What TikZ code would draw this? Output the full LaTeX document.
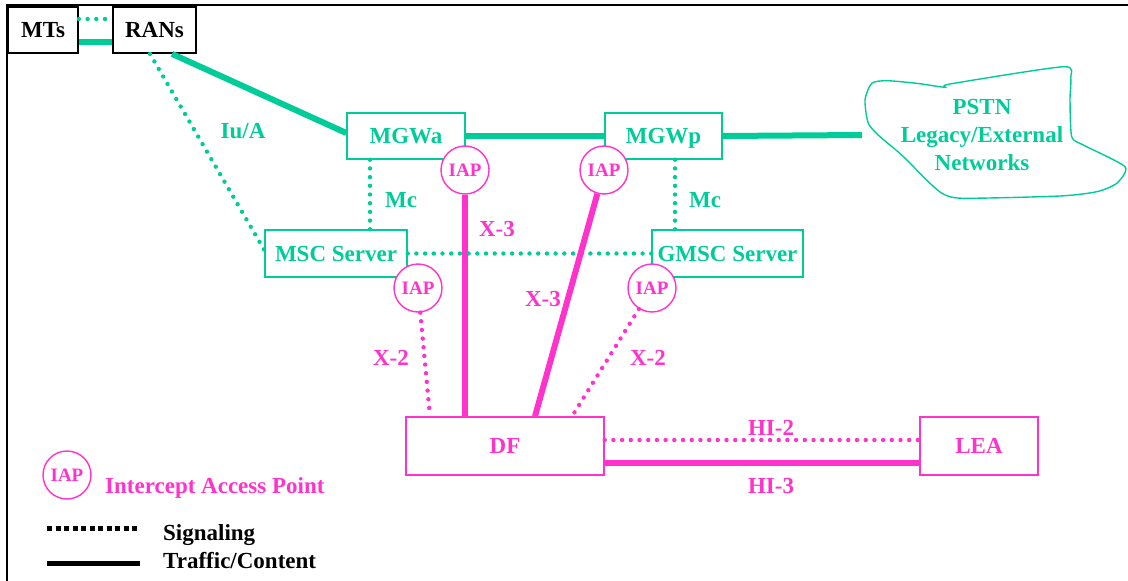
\documentclass[tikz,border=0pt]{standalone}
\usepackage{fontspec}
\setmainfont{Liberation Serif}[BoldFont={Liberation Serif Bold}]
\definecolor{grn}{RGB}{0,204,153}
\definecolor{mag}{RGB}{255,51,204}
\begin{document}
\begin{tikzpicture}[x=1pt,y=-1pt,
  lbl/.style={font=\fontsize{23}{28}\selectfont\bfseries},
  boxbase/.style={lbl, fill=white, inner sep=0pt, text height=15.2pt, text depth=0pt, minimum height=46pt},
  gbox/.style={boxbase, draw=grn, line width=1.4pt, text=grn},
  mbox/.style={boxbase, draw=mag, line width=1.4pt, text=mag, minimum height=58pt},
  kbox/.style={boxbase, draw=black, line width=1.8pt, text=black},
  iap/.style={circle, draw=mag, line width=1.4pt, fill=white, minimum size=48pt, inner sep=0pt,
    text=mag, font=\fontsize{19}{22}\selectfont\bfseries},
  glbl/.style={lbl, text=grn, anchor=base},
  mlbl/.style={lbl, text=mag, anchor=base},
  gsolid/.style={draw=grn, line width=6pt},
  gdot/.style={draw=grn, line width=4.4pt, line cap=round, dash pattern=on 0pt off 8.7pt},
  msolid/.style={draw=mag, line width=6pt},
  mdot/.style={draw=mag, line width=4.4pt, line cap=round, dash pattern=on 0pt off 8.7pt},
]
\useasboundingbox (0,0) rectangle (1128,581);
% frame
\draw[line width=1.5pt] (7,581) -- (7,5) -- (1128,5);

% cloud
\draw[draw=grn, line width=1.4pt] plot[smooth cycle, tension=0.4] coordinates {
 (871.7,83.3) (886.7,80.7) (916.7,83.3) (945,87.3) (950,84) (1063.3,66.7) (1070.7,78.3)
 (1070,100) (1071.7,136.7) (1083.3,145) (1125,166.7) (1116.7,183.3) (1096.7,191.7)
 (1060,196) (963.3,198.3) (943.3,194) (930,183.3) (901.7,155) (880,136.7) (868.3,123.3) (865,100)};
\node[lbl, text=grn, align=center] (pstn) at (982,135) {PSTN\\Legacy/External\\Networks};
\coordinate (cloudW) at (862,135);

% boxes
\node[kbox, minimum width=70pt] (MTs) at (43,30) {MTs};
\node[kbox, minimum width=83pt] (RANs) at (154.5,30) {RANs};
\node[gbox, minimum width=118pt] (MGWa) at (406,136) {MGWa};
\node[gbox, minimum width=117pt] (MGWp) at (663.5,136) {MGWp};
\node[gbox, minimum width=142pt, minimum height=47pt] (MSC) at (336,253.5) {MSC Server};
\node[gbox, minimum width=151pt, minimum height=47pt] (GMSC) at (727.5,253.5) {GMSC Server};
\node[mbox, minimum width=198pt] (DF) at (505,446) {DF};
\node[mbox, minimum width=118pt] (LEA) at (979,446) {LEA};

% green connectors
\draw[gsolid] ([yshift=-12pt]MTs.east) -- ([yshift=-12pt]RANs.west);
\draw[gdot] ([yshift=11pt]MTs.east) -- ([yshift=11pt]RANs.west);
\draw[gsolid] ([xshift=17.5pt]RANs.south) -- ([yshift=3pt]MGWa.west);
\draw[gdot] ([xshift=-4.5pt]RANs.south) -- ([yshift=3.5pt]MSC.west);
\draw[gsolid] (MGWa.east) -- (MGWp.west);
\draw[gsolid] (MGWp.east) -- (cloudW);
\draw[gdot] ([xshift=-36pt]MGWa.south) -- ([xshift=34pt]MSC.north);
\draw[gdot] ([xshift=11.5pt]MGWp.south) -- ([xshift=-52.5pt]GMSC.north);
\draw[gdot] (MSC.east) -- (GMSC.west);

% IAPs
\node[iap] (IAP1) at (465,170) {IAP};
\node[iap] (IAP2) at (604,170) {IAP};
\node[iap] (IAP3) at (418,288) {IAP};
\node[iap] (IAP4) at (652,288) {IAP};

% magenta connectors
\coordinate (dfA) at ([xshift=-40pt]DF.north);
\coordinate (dfB) at ([xshift=30pt]DF.north);
\coordinate (dfL) at ([xshift=-75pt]DF.north);
\coordinate (dfR) at ([xshift=67pt]DF.north);
\draw[msolid] (IAP1) -- (dfA);
\draw[msolid] (IAP2) -- (dfB);
\draw[mdot] (IAP3) -- (dfL);
\draw[mdot] (IAP4) -- (dfR);
\draw[mdot] ([yshift=6pt]DF.east) -- ([yshift=6pt]LEA.west);
\draw[msolid] ([yshift=-17pt]DF.east) -- ([yshift=-17pt]LEA.west);

% labels
\node[glbl] (lIu) at (243,138) {Iu/A};
\node[glbl] (lMc1) at (401,207) {Mc};
\node[glbl] (lMc2) at (705,207) {Mc};
\node[mlbl] (lX3a) at (497,236) {X-3};
\node[mlbl] (lX3b) at (543,306) {X-3};
\node[mlbl] (lX2a) at (391,365) {X-2};
\node[mlbl] (lX2b) at (648,365) {X-2};
\node[mlbl] (lHI2) at (771,435) {HI-2};
\node[mlbl] (lHI3) at (771,493) {HI-3};

% legend
\node[iap] (IAPleg) at (67,475) {IAP};
\node[lbl, text=mag, anchor=base west, inner sep=0pt] (legIAP) at (105,493) {Intercept Access Point};
\coordinate (sigA) at (47,528);
\coordinate (sigB) at (137,528);
\draw[line width=5pt, dash pattern=on 5pt off 3.5pt] (sigA) -- (sigB);
\node[lbl, anchor=base west, inner sep=0pt] (legSig) at (163,540) {Signaling};
\coordinate (trA) at (47,563);
\coordinate (trB) at (140,563);
\draw[line width=5pt] (trA) -- (trB);
\node[lbl, anchor=base west, inner sep=0pt] (legTr) at (163,568) {Traffic/Content};
\end{tikzpicture}
\end{document}
